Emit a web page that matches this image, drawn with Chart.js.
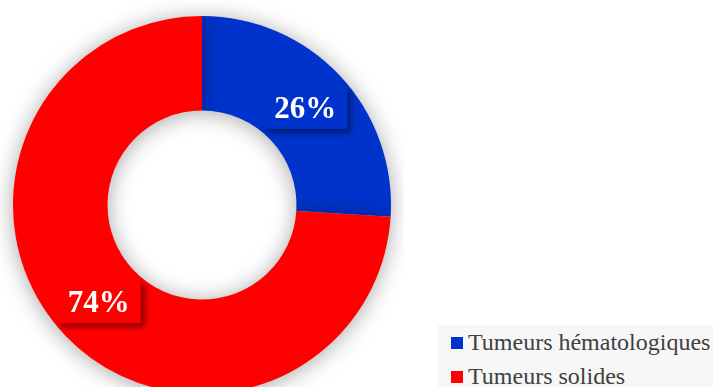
<!DOCTYPE html>
<html>
<head>
<meta charset="utf-8">
<script src="https://cdn.jsdelivr.net/npm/chart.js@4/dist/chart.umd.min.js"></script>
<style>
  html, body { margin: 0; padding: 0; background: #fff; overflow: hidden; width: 713px; height: 387px; }
  #wrap { position: absolute; left: 0; top: 0; width: 404px; height: 410px; }
  #legend {
    position: absolute; left: 438px; top: 325px; width: 275px; height: 70px;
    background: #f7f7f7; font-family: "Liberation Serif", "Times New Roman", serif;
    font-size: 24px; color: #404040;
  }
  #legend .item { position: absolute; left: 13px; white-space: nowrap; line-height: 24px; }
  #legend .box { display: inline-block; width: 12px; height: 12px; margin-right: 5px; vertical-align: 1px; }
</style>
</head>
<body>
<div id="wrap"><canvas id="chart"></canvas></div>
<div id="legend"></div>
<script>
const categories = ["Tumeurs hématologiques", "Tumeurs solides"]
const shares = [26, 74]
const colors = ["#0033cc", "#ff0000"]

// soft drop shadow under the ring
const ringShadow = {
  id: "ringShadow",
  beforeDatasetDraw(chart) {
    const ctx = chart.ctx
    ctx.save()
    ctx.shadowColor = "rgba(0, 0, 0, 0.35)"
    ctx.shadowBlur = 22
    ctx.shadowOffsetX = 0
    ctx.shadowOffsetY = 2
  },
  afterDatasetDraw(chart) {
    chart.ctx.restore()
  }
}

// percentage boxes sitting on each slice
const sliceLabels = {
  id: "sliceLabels",
  afterDatasetsDraw(chart) {
    const ctx = chart.ctx
    const meta = chart.getDatasetMeta(0)
    ctx.save()
    ctx.font = "bold 31px 'Liberation Serif', 'Times New Roman', serif"
    ctx.textAlign = "center"
    ctx.textBaseline = "middle"
    meta.data.forEach((arc, i) => {
      const { x, y } = arc.tooltipPosition()
      const text = shares[i] + "%"
      const w = ctx.measureText(text).width + 22
      const h = 42
      ctx.save()
      ctx.shadowColor = "rgba(0, 0, 0, 0.45)"
      ctx.shadowBlur = 6
      ctx.shadowOffsetX = 4
      ctx.shadowOffsetY = 4
      ctx.fillStyle = colors[i]
      ctx.fillRect(x - w / 2, y - h / 2, w, h)
      ctx.restore()
      ctx.fillStyle = "#ffffff"
      ctx.fillText(text, x, y + 2)
    })
    ctx.restore()
  }
}

new Chart(document.getElementById("chart"), {
  type: "doughnut",
  data: {
    labels: categories,
    datasets: [{
      data: shares,
      backgroundColor: colors,
      borderWidth: 0,
      hoverOffset: 0,
      offset: 0
    }]
  },
  options: {
    responsive: true,
    maintainAspectRatio: false,
    animation: false,
    cutout: "50%",
    layout: { padding: { left: 13, right: 13, top: 16, bottom: 16 } },
    plugins: { legend: { display: false }, tooltip: { enabled: false } },
    events: []
  },
  plugins: [ringShadow, sliceLabels]
})

const legend = document.getElementById("legend")
categories.forEach((name, i) => {
  const item = document.createElement("div")
  item.className = "item"
  item.style.top = (5 + i * 34) + "px"
  item.innerHTML = '<span class="box" style="background:' + colors[i] + '"></span>' + name
  legend.appendChild(item)
})
</script>
</body>
</html>
